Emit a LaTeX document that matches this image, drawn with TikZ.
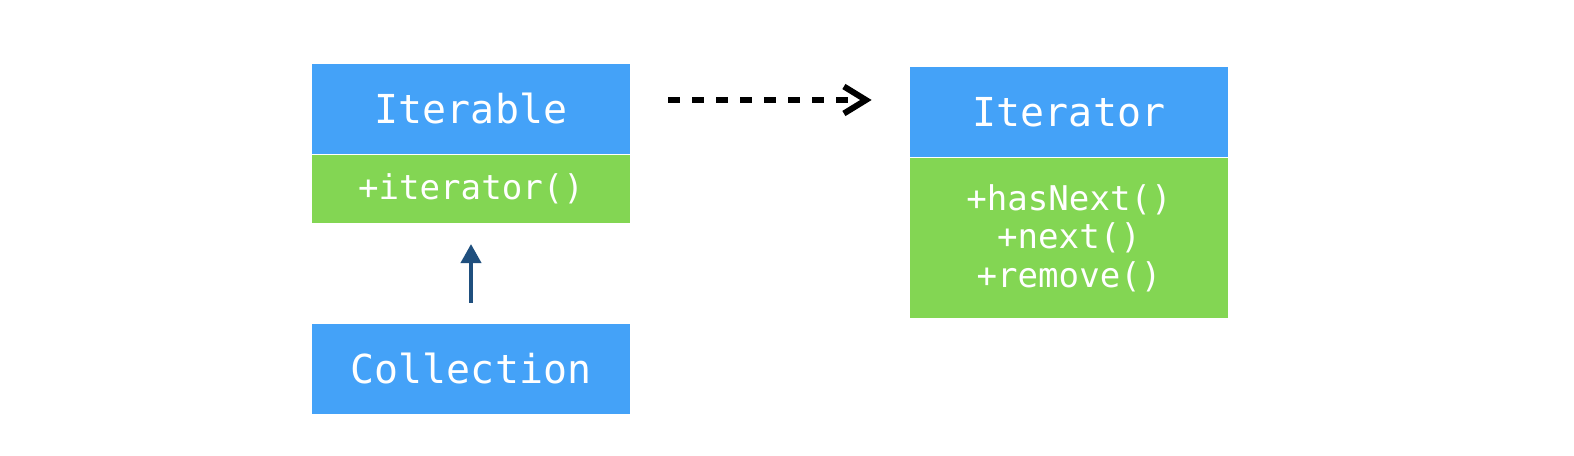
\documentclass[tikz,border=0pt]{standalone}
\usepackage{fontspec}
\setmonofont{DejaVu Sans Mono}
\usetikzlibrary{positioning, arrows.meta}

\definecolor{classblue}{HTML}{44A2F8}
\definecolor{classgreen}{HTML}{83D653}
\definecolor{arrowblue}{HTML}{1F4F7E}

\tikzset{
    classname/.style={rectangle, fill=classblue, text=white, inner sep=0pt,
        minimum width=6.36cm, minimum height=1.8cm,
        font=\ttfamily\fontsize{22.7}{27}\selectfont},
    classops/.style={rectangle, fill=classgreen, text=white, inner sep=0pt,
        minimum width=6.36cm, align=center,
        font=\ttfamily\fontsize{19.4}{22.1}\selectfont},
    extendsarrow/.style={-{Triangle[width=0.4cm, length=0.38cm]}, arrowblue,
        line width=0.08cm, shorten <=0.42cm, shorten >=0.42cm},
    usesarrow/.style={-{Straight Barb[width=0.54cm, length=0.44cm]}, black,
        line width=0.12cm, dash pattern=on 0.24cm off 0.24cm,
        shorten <=0.76cm, shorten >=0.76cm}
}

\begin{document}
\begin{tikzpicture}
    \useasboundingbox (0,0) rectangle (31.48,9.12);

    % --- Iterable ---
    \node[classname] (iterable) at (9.42,6.94) {Iterable};
    \node[classops, minimum height=1.36cm, below=0pt of iterable] (iterableops) {+iterator()};

    % --- Collection ---
    \node[classname] (collection) at (9.42,1.74) {Collection};

    % --- Iterator ---
    \node[classname] (iterator) at (21.38,6.87) {Iterator};
    \node[classops, minimum height=3.2cm, below=0pt of iterator] (iteratorops)
        {+hasNext()\\+next()\\+remove()};

    % --- 矢印 ---
    \draw[extendsarrow] (collection.north) -- (iterableops.south);
    \draw[usesarrow] ([yshift=0.18cm]iterable.east) -- ([yshift=0.18cm]iterable.east -| iterator.west);

\end{tikzpicture}
\end{document}
